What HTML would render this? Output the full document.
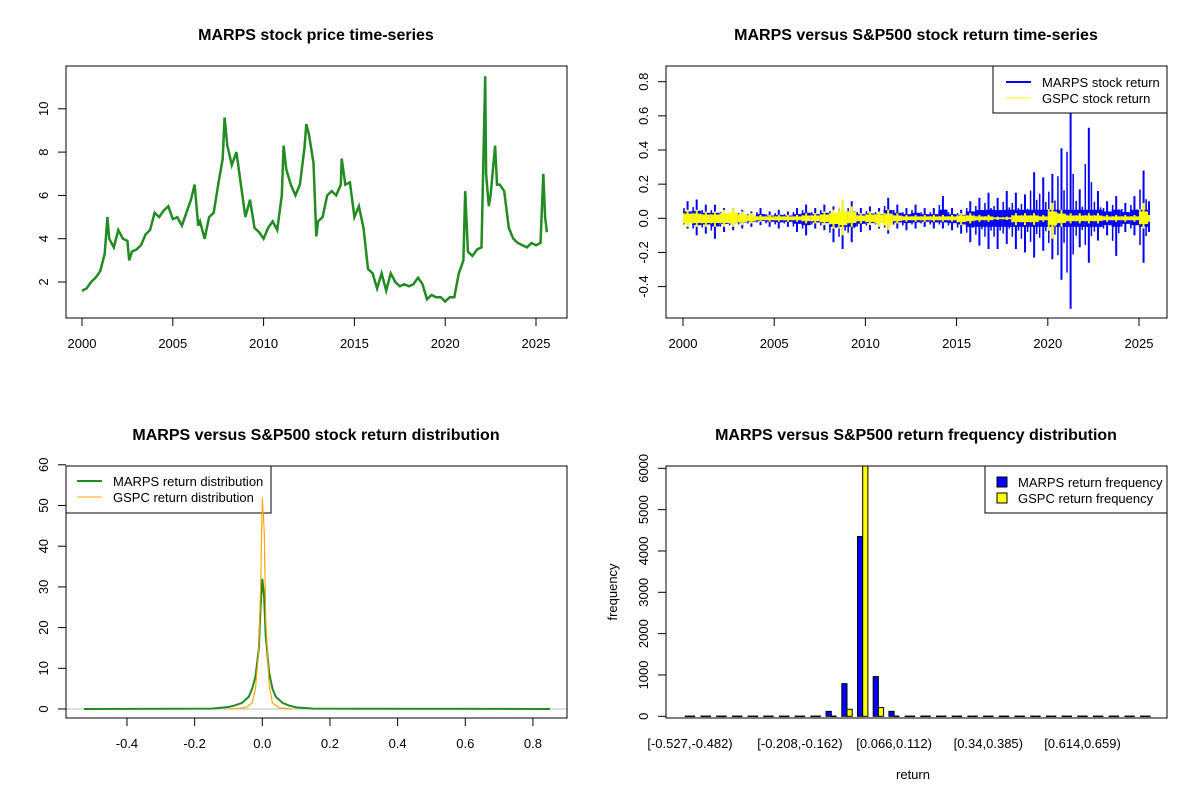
<!DOCTYPE html>
<html><head><meta charset="utf-8"><style>
body{margin:0;background:#fff}
svg text{font-family:"Liberation Sans",Arial,sans-serif}
</style></head><body>
<svg id="chart" xmlns="http://www.w3.org/2000/svg" width="1200" height="800" viewBox="0 0 1200 800">
<rect width="1200" height="800" fill="#fff"/>
<defs>
<clipPath id="c1"><rect x="66" y="66" width="501" height="252"/></clipPath>
<clipPath id="c2"><rect x="666" y="66" width="501" height="252"/></clipPath>
<clipPath id="c3"><rect x="66" y="466" width="501" height="252"/></clipPath>
<clipPath id="c4"><rect x="666" y="466" width="501" height="252"/></clipPath>
</defs>
<g id="p1"></g>
<g id="p2"></g>
<g id="p3"></g>
<g id="p4"></g>
</svg>
<script>
// ---- Panel 1 data: MARPS price
const priceYears = [2000.0,2000.25,2000.5,2000.75,2001.0,2001.25,2001.4,2001.5,2001.75,2002.0,2002.25,2002.5,2002.6,2002.75,2003.0,2003.25,2003.5,2003.75,2004.0,2004.25,2004.5,2004.75,2005.0,2005.25,2005.5,2005.75,2006.0,2006.2,2006.4,2006.5,2006.75,2007.0,2007.25,2007.5,2007.75,2007.85,2008.0,2008.25,2008.5,2008.75,2009.0,2009.25,2009.5,2009.75,2010.0,2010.25,2010.5,2010.75,2011.0,2011.1,2011.25,2011.5,2011.75,2012.0,2012.25,2012.35,2012.5,2012.75,2012.9,2013.0,2013.25,2013.5,2013.75,2014.0,2014.25,2014.3,2014.5,2014.75,2015.0,2015.25,2015.5,2015.75,2016.0,2016.25,2016.5,2016.75,2017.0,2017.25,2017.5,2017.75,2018.0,2018.25,2018.5,2018.75,2019.0,2019.25,2019.5,2019.75,2020.0,2020.25,2020.5,2020.75,2021.0,2021.1,2021.25,2021.5,2021.75,2022.0,2022.2,2022.25,2022.4,2022.5,2022.75,2022.85,2023.0,2023.25,2023.5,2023.75,2024.0,2024.25,2024.5,2024.75,2025.0,2025.25,2025.4,2025.5,2025.6];
const priceValues = [1.6,1.7,2.0,2.2,2.5,3.3,5.0,4.0,3.6,4.4,4.0,3.9,3.0,3.4,3.5,3.7,4.2,4.4,5.2,5.0,5.3,5.5,4.9,5.0,4.6,5.2,5.8,6.5,4.6,4.8,4.0,5.0,5.2,6.5,7.7,9.6,8.3,7.4,8.0,6.5,5.0,5.8,4.5,4.3,4.0,4.5,4.8,4.4,6.0,8.3,7.2,6.5,6.0,6.5,8.2,9.3,8.8,7.5,4.1,4.8,5.0,6.0,6.2,6.0,6.5,7.7,6.5,6.6,5.0,5.5,4.5,2.6,2.4,1.7,2.4,1.6,2.4,2.0,1.8,1.9,1.8,1.9,2.2,1.9,1.2,1.4,1.3,1.3,1.1,1.3,1.3,2.4,3.0,6.2,3.4,3.2,3.5,3.6,11.5,7.0,5.5,6.0,8.3,6.5,6.5,6.2,4.5,4.0,3.8,3.7,3.6,3.8,3.7,3.8,7.0,5.0,4.3];
const priceYTicks = [2,4,6,8,10];
const yearTicks = [2000,2005,2010,2015,2020,2025];
// ---- Panel 2 data: half-year return extremes (bins start 2000.0, step 0.5)
const retBinStart = [2000.0,2000.5,2001.0,2001.5,2002.0,2002.5,2003.0,2003.5,2004.0,2004.5,2005.0,2005.5,2006.0,2006.5,2007.0,2007.5,2008.0,2008.5,2009.0,2009.5,2010.0,2010.5,2011.0,2011.5,2012.0,2012.5,2013.0,2013.5,2014.0,2014.5,2015.0,2015.5,2016.0,2016.5,2017.0,2017.5,2018.0,2018.5,2019.0,2019.5,2020.0,2020.5,2021.0,2021.5,2022.0,2022.5,2023.0,2023.5,2024.0,2024.5,2025.0,2025.5];
const marpsHi = [.10,.11,.08,.08,.06,.06,.05,.04,.06,.04,.05,.04,.06,.08,.06,.08,.07,.10,.10,.06,.07,.06,.12,.08,.06,.08,.06,.06,.13,.06,.05,.10,.12,.15,.12,.16,.15,.14,.27,.24,.26,.41,.65,.17,.53,.16,.10,.13,.09,.13,.28,.10];
const marpsLo = [-.06,-.10,-.09,-.12,-.08,-.07,-.06,-.05,-.04,-.05,-.06,-.05,-.08,-.10,-.06,-.07,-.14,-.18,-.14,-.08,-.07,-.06,-.09,-.06,-.07,-.06,-.05,-.06,-.06,-.07,-.09,-.14,-.16,-.18,-.18,-.15,-.18,-.20,-.23,-.19,-.24,-.36,-.53,-.17,-.26,-.13,-.10,-.22,-.08,-.10,-.26,-.08];
const gspcHi = [.05,.05,.04,.04,.05,.06,.04,.03,.02,.02,.02,.02,.02,.03,.03,.04,.05,.11,.07,.03,.04,.04,.05,.03,.02,.02,.02,.02,.02,.02,.03,.03,.02,.02,.01,.01,.03,.03,.03,.02,.09,.05,.03,.03,.03,.03,.02,.02,.02,.02,.09,.02];
const gspcLo = [-.05,-.05,-.05,-.05,-.05,-.05,-.04,-.03,-.02,-.02,-.02,-.02,-.02,-.03,-.03,-.04,-.06,-.10,-.05,-.03,-.04,-.05,-.07,-.03,-.02,-.02,-.02,-.02,-.02,-.02,-.04,-.03,-.02,-.02,-.01,-.01,-.04,-.04,-.04,-.02,-.12,-.05,-.03,-.03,-.03,-.03,-.02,-.02,-.02,-.02,-.06,-.02];
const retYTicks = [-0.4,-0.2,0.0,0.2,0.4,0.6,0.8];
// ---- Panel 3 data: densities
const marpsDensX = [-0.527,-0.15,-0.1,-0.08,-0.06,-0.04,-0.03,-0.02,-0.01,-0.005,0,0.005,0.01,0.02,0.03,0.04,0.06,0.08,0.1,0.15,0.85];
const marpsDensY = [0,0.1,0.5,0.9,1.5,3,5,8,15,25,32,28,18,9,5,3,1.5,0.8,0.4,0.1,0];
const gspcDensX = [-0.1,-0.05,-0.03,-0.02,-0.01,-0.005,0,0.003,0.006,0.01,0.02,0.03,0.05,0.09];
const gspcDensY = [0,0.3,1.5,5,15,30,52,48,43,22,6,1.5,0.3,0];
const densXTicks = [-0.4,-0.2,0.0,0.2,0.4,0.6,0.8];
const densYTicks = [0,10,20,30,40,50,60];
// ---- Panel 4 data: histogram counts (30 bins)
const binLabels = ["[-0.527,-0.482)","","","","","","","[-0.208,-0.162)","","","","","","[0.066,0.112)","","","","","","[0.34,0.385)","","","","","","[0.614,0.659)","","","",""];
const marpsFreq = [1,0,0,0,0,0,0,15,15,120,790,4350,960,120,20,15,0,0,0,0,0,0,0,0,0,0,0,0,0,1];
const gspcFreq = [0,0,0,0,0,0,0,0,5,20,170,6100,210,20,5,0,0,0,0,0,0,0,0,0,0,0,0,0,0,0];
const freqYTicks = [0,1000,2000,3000,4000,5000,6000];

const NS="http://www.w3.org/2000/svg";
const FS=13, TFS=16;
function mk(parent,tag,attrs,text){const e=document.createElementNS(NS,tag);for(const k in attrs)e.setAttribute(k,attrs[k]);if(text!==undefined)e.textContent=text;parent.appendChild(e);return e;}
function fmt(v){return (Math.abs(v)<1e-9)?"0.0":(Math.round(v*10)/10).toFixed(1);}

// ===== Panel 1
(function(){
const g=document.getElementById('p1');
const X=y=>82+(y-2000)*(454/25), Y=v=>282-(v-2)*21.65;
const t=mk(g,'text',{x:316,y:40,'text-anchor':'middle','font-size':TFS,'font-weight':'bold'},'MARPS stock price time-series');

const pts=priceYears.map((y,i)=>X(y).toFixed(1)+','+Y(priceValues[i]).toFixed(1)).join(' ');
const pl=mk(g,'polyline',{points:pts,fill:'none',stroke:'#228B22','stroke-width':2.5,'clip-path':'url(#c1)'});

const b=mk(g,'rect',{x:66,y:66,width:501,height:252,fill:'none',stroke:'#000'});

yearTicks.forEach(yr=>{const x=X(yr);
 const tk=mk(g,'line',{x1:x,x2:x,y1:318,y2:326,stroke:'#000'});
 const l=mk(g,'text',{x:x,y:348,'text-anchor':'middle','font-size':FS},yr);});
priceYTicks.forEach(v=>{const y=Y(v);
 const tk=mk(g,'line',{x1:58,x2:66,y1:y,y2:y,stroke:'#000'});
 const l=mk(g,'text',{x:0,y:0,'text-anchor':'middle','font-size':FS,transform:`translate(48,${y}) rotate(-90)`},v);});
})();

// ===== Panel 2
(function(){
const g=document.getElementById('p2');
const X=y=>683+(y-2000)*(456/25), Y=v=>218.3-v*170.75;
const t=mk(g,'text',{x:916,y:40,'text-anchor':'middle','font-size':TFS,'font-weight':'bold'},'MARPS versus S&P500 stock return time-series');

const gc=mk(g,'g',{'clip-path':'url(#c2)'});
function series(hi,lo,color,name,bandF,bandMax){
 retBinStart.forEach((s,i)=>{const e=Math.min(s+0.5,2025.6);const x0=X(s),x1=X(e);
  const bh=Math.min(hi[i]*bandF,bandMax), bl=Math.max(lo[i]*bandF,-bandMax);
  const r=mk(gc,'rect',{x:x0,y:Y(bh),width:Math.max(x1-x0,1),height:Y(bl)-Y(bh),fill:color});
  
  const xm=(x0+x1)/2;
  const l=mk(gc,'line',{x1:xm,x2:xm,y1:Y(hi[i]),y2:Y(lo[i]),stroke:color,'stroke-width':2});
  
  const l2=mk(gc,'line',{x1:x0+1,x2:x0+1,y1:Y(hi[i]*0.6),y2:Y(lo[i]*0.6),stroke:color,'stroke-width':1.5});
  
  const l3=mk(gc,'line',{x1:x1-2,x2:x1-2,y1:Y(hi[i]*0.4),y2:Y(lo[i]*0.4),stroke:color,'stroke-width':1.5});
  
 });}
series(marpsHi,marpsLo,'#0000FF','marps-return',0.4,0.05);
series(gspcHi,gspcLo,'#FFFF00','gspc-return',0.55,0.04);
const b=mk(g,'rect',{x:666,y:66,width:501,height:252,fill:'none',stroke:'#000'});
yearTicks.forEach(yr=>{const x=X(yr);
 const tk=mk(g,'line',{x1:x,x2:x,y1:318,y2:326,stroke:'#000'});
 const l=mk(g,'text',{x:x,y:348,'text-anchor':'middle','font-size':FS},yr);});
retYTicks.forEach(v=>{const y=Y(v);
 const tk=mk(g,'line',{x1:658,x2:666,y1:y,y2:y,stroke:'#000'});
 const l=mk(g,'text',{x:0,y:0,'text-anchor':'middle','font-size':FS,transform:`translate(648,${y}) rotate(-90)`},fmt(v));});
const lg=mk(g,'g',{});
mk(lg,'rect',{x:993,y:66,width:174,height:47,fill:'#fff',stroke:'#000'});
const e1=mk(lg,'line',{x1:1006,x2:1031,y1:82,y2:82,stroke:'#0000FF','stroke-width':2});
const e2=mk(lg,'line',{x1:1006,x2:1031,y1:98,y2:98,stroke:'#FFFF00','stroke-width':1});
const t1=mk(lg,'text',{x:1042,y:87,'font-size':FS},'MARPS stock return');
const t2=mk(lg,'text',{x:1042,y:103,'font-size':FS},'GSPC stock return');
})();

// ===== Panel 3
(function(){
const g=document.getElementById('p3');
const X=v=>262.3+v*338.3, Y=v=>709-v*4.07;
const t=mk(g,'text',{x:316,y:440,'text-anchor':'middle','font-size':TFS,'font-weight':'bold'},'MARPS versus S&P500 stock return distribution');

const gc=mk(g,'g',{'clip-path':'url(#c3)'});
const zl=mk(gc,'line',{x1:66,x2:567,y1:Y(0),y2:Y(0),stroke:'#BEBEBE'});
const p2=mk(gc,'polyline',{points:gspcDensX.map((x,i)=>X(x).toFixed(1)+','+Y(gspcDensY[i]).toFixed(1)).join(' '),fill:'none',stroke:'#FFA500','stroke-width':1});

const p1=mk(gc,'polyline',{points:marpsDensX.map((x,i)=>X(x).toFixed(1)+','+Y(marpsDensY[i]).toFixed(1)).join(' '),fill:'none',stroke:'#228B22','stroke-width':2});

const b=mk(g,'rect',{x:66,y:466,width:501,height:252,fill:'none',stroke:'#000'});
densXTicks.forEach(v=>{const x=X(v);
 const tk=mk(g,'line',{x1:x,x2:x,y1:718,y2:726,stroke:'#000'});
 const l=mk(g,'text',{x:x,y:748,'text-anchor':'middle','font-size':FS},fmt(v));});
densYTicks.forEach(v=>{const y=Y(v);
 const tk=mk(g,'line',{x1:58,x2:66,y1:y,y2:y,stroke:'#000'});
 const l=mk(g,'text',{x:0,y:0,'text-anchor':'middle','font-size':FS,transform:`translate(48,${y}) rotate(-90)`},v);});
const lg=mk(g,'g',{});
mk(lg,'rect',{x:66,y:466,width:205,height:47,fill:'#fff',stroke:'#000'});
const e1=mk(lg,'line',{x1:77,x2:102,y1:481,y2:481,stroke:'#228B22','stroke-width':2});
const e2=mk(lg,'line',{x1:77,x2:102,y1:497,y2:497,stroke:'#FFA500','stroke-width':1});
const t1=mk(lg,'text',{x:113,y:486,'font-size':FS},'MARPS return distribution');
const t2=mk(lg,'text',{x:113,y:502,'font-size':FS},'GSPC return distribution');
const p3=mk(g,'polyline',{points:gspcDensX.map((x,i)=>X(x).toFixed(1)+','+Y(gspcDensY[i]).toFixed(1)).join(' '),fill:'none',stroke:'#FFA500','stroke-width':1,'clip-path':'url(#c3)'});

})();

// ===== Panel 4
(function(){
const g=document.getElementById('p4');
const C=i=>690+i*15.7, Y=v=>716.3-v*0.04133, bw=5.2;
const t=mk(g,'text',{x:916,y:440,'text-anchor':'middle','font-size':TFS,'font-weight':'bold'},'MARPS versus S&P500 return frequency distribution');

const gc=mk(g,'g',{'clip-path':'url(#c4)'});
function bar(x,v,color,name){
 const h=Y(0)-Y(v);
 if(h<1){const l=mk(gc,'line',{x1:x,x2:x+bw,y1:Y(0),y2:Y(0),stroke:'#000','stroke-width':1.5});
  }
 else{const r=mk(gc,'rect',{x:x,y:Y(v),width:bw,height:h,fill:color,stroke:'#000','stroke-width':1});
  }
}
marpsFreq.forEach((v,i)=>{const c=C(i);
 bar(c-bw,v,'#0000FF','marps-bar');
 bar(c,gspcFreq[i],'#FFFF00','gspc-bar');
 if(binLabels[i]){const l=mk(g,'text',{x:c,y:748,'text-anchor':'middle','font-size':FS},binLabels[i]);}
});
const b=mk(g,'rect',{x:666,y:466,width:501,height:252,fill:'none',stroke:'#000'});
freqYTicks.forEach(v=>{const y=Y(v);
 const tk=mk(g,'line',{x1:658,x2:666,y1:y,y2:y,stroke:'#000'});
 const l=mk(g,'text',{x:0,y:0,'text-anchor':'middle','font-size':FS,transform:`translate(648,${y}) rotate(-90)`},v);});
const yt=mk(g,'text',{x:0,y:0,'text-anchor':'middle','font-size':FS,transform:'translate(617,592) rotate(-90)'},'frequency');
const xt=mk(g,'text',{x:913,y:779,'text-anchor':'middle','font-size':FS},'return');
const lg=mk(g,'g',{});
mk(lg,'rect',{x:985,y:466,width:182,height:47,fill:'#fff',stroke:'#000'});
const s1=mk(lg,'rect',{x:997,y:477,width:10,height:10,fill:'#0000FF',stroke:'#000'});
const s2=mk(lg,'rect',{x:997,y:493,width:10,height:10,fill:'#FFFF00',stroke:'#000'});
const t1=mk(lg,'text',{x:1018,y:487,'font-size':FS},'MARPS return frequency');
const t2=mk(lg,'text',{x:1018,y:503,'font-size':FS},'GSPC return frequency');
})();
</script>
</body></html>
